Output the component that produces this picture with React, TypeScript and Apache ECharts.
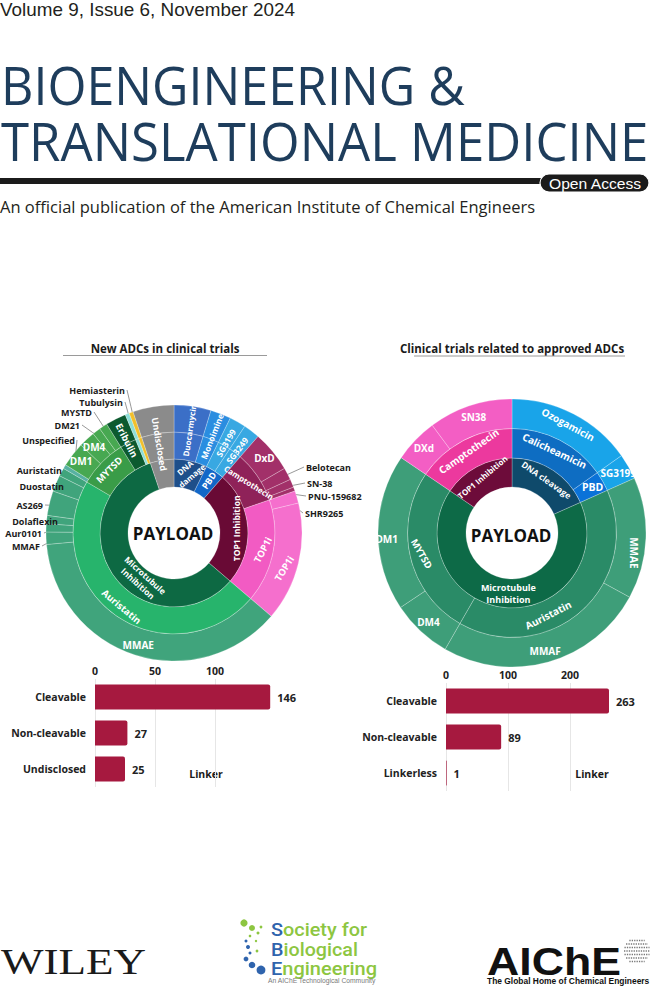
import { useEffect, useRef } from 'react';
import * as echarts from 'echarts';

// ---------------- DATA ----------------
// New ADCs in clinical trials (payload sunburst, outer ring = payload, estimated counts)
const leftLeaves = ['Duocarmycin', 'Monoimine', 'SG3199', 'SG3249', 'DxD', 'Belotecan', 'SN-38', 'PNU-159682', 'SHR9265', 'TOP1i', 'MMAE', 'MMAF', 'Aur0101', 'Dolaflexin', 'AS269', 'Duostatin', 'Auristatin', 'Unspecified', 'DM1', 'DM4', 'DM21', 'MYSTD', 'Eribulin', 'Tubulysin', 'Hemiasterin', 'Undisclosed'];
const leftCounts = [9, 5, 4, 4, 10, 3, 2, 1, 3, 29, 72, 3, 2, 2, 6, 4, 2, 1, 6, 4, 2, 2, 5, 1, 1, 10];
const leftClass = ['Duocarmycin', 'Monoimine', 'SG3199', 'SG3249', 'Camptothecin', 'Camptothecin', 'Camptothecin', 'Camptothecin', 'TOP1i', 'TOP1i', 'Auristatin', 'Auristatin', 'Auristatin', 'Auristatin', 'Auristatin', 'Auristatin', 'Auristatin', 'MYTSD', 'MYTSD', 'MYTSD', 'MYTSD', 'MYTSD', 'Eribulin', 'Tubulysin', 'Hemiasterin', 'Undisclosed'];
const leftMechanism = ['DNA damage', 'DNA damage', 'PBD', 'PBD', 'TOP1 Inhibition', 'TOP1 Inhibition', 'TOP1 Inhibition', 'TOP1 Inhibition', 'TOP1 Inhibition', 'TOP1 Inhibition', 'Microtubule Inhibition', 'Microtubule Inhibition', 'Microtubule Inhibition', 'Microtubule Inhibition', 'Microtubule Inhibition', 'Microtubule Inhibition', 'Microtubule Inhibition', 'Microtubule Inhibition', 'Microtubule Inhibition', 'Microtubule Inhibition', 'Microtubule Inhibition', 'Microtubule Inhibition', 'Microtubule Inhibition', 'Microtubule Inhibition', 'Microtubule Inhibition', 'Undisclosed'];

// Clinical trials related to approved ADCs
const rightLeaves = ['Ozogamicin', 'SG3199', 'MMAE', 'MMAF', 'DM4', 'DM1', 'DXd', 'SN38'];
const rightCounts = [54, 11, 52, 90, 26, 67, 19, 36];
const rightClass = ['Calicheamicin', 'PBD', 'Auristatin', 'Auristatin', 'MYTSD', 'MYTSD', 'Camptothecin', 'Camptothecin'];
const rightMechanism = ['DNA cleavage', 'DNA cleavage', 'Microtubule Inhibition', 'Microtubule Inhibition', 'Microtubule Inhibition', 'Microtubule Inhibition', 'TOP1 Inhibition', 'TOP1 Inhibition'];

// Linker bar charts
const leftLinkerTypes = ['Cleavable', 'Non-cleavable', 'Undisclosed'];
const leftLinkerCounts = [146, 27, 25];
const leftLinkerTicks = [0, 50, 100];
const rightLinkerTypes = ['Cleavable', 'Non-cleavable', 'Linkerless'];
const rightLinkerCounts = [263, 89, 1];
const rightLinkerTicks = [0, 100, 200];

// ---------------- STYLE / LAYOUT ----------------
const FONT = '"Open Sans", "Noto Sans", sans-serif';
const L_CENTER = [174, 533];
const L_R = [46, 74, 101, 128];
const R_CENTER = [512, 533];
const R_R = [46, 75, 104.5, 134];

const leftRing1Colors = { 'DNA damage': '#1e4f8a', PBD: '#1267c8', 'TOP1 Inhibition': '#690a35', 'Microtubule Inhibition': '#0d6943', Undisclosed: '#8b8b8b' };
const leftRing2Colors = { Duocarmycin: '#3b6fc7', Monoimine: '#2a8de0', SG3199: '#38a8e2', SG3249: '#38a8e2', Camptothecin: '#8f2259', TOP1i: '#f25bc3', Auristatin: '#27b46c', MYTSD: '#3a9c48', Eribulin: '#0c5a2f', Tubulysin: '#8edfd8', Hemiasterin: '#f2c02c', Undisclosed: '#8b8b8b' };
const leftRing3Colors = { Duocarmycin: '#3b6fc7', Monoimine: '#2a8de0', SG3199: '#38a8e2', SG3249: '#38a8e2', DxD: '#a23069', Belotecan: '#a23069', 'SN-38': '#a23069', 'PNU-159682': '#a23069', SHR9265: '#f56fcd', TOP1i: '#f56fcd', MMAE: '#40a47c', MMAF: '#40a47c', Aur0101: '#40a47c', Dolaflexin: '#40a47c', AS269: '#40a47c', Duostatin: '#40a47c', Auristatin: '#40a47c', Unspecified: '#57b1a2', DM1: '#47a851', DM4: '#47a851', DM21: '#47a851', MYSTD: '#47a851', Eribulin: '#0c5a2f', Tubulysin: '#8edfd8', Hemiasterin: '#f2c02c', Undisclosed: '#8b8b8b' };

const rightRing1Colors = { 'DNA cleavage': '#0f4a6b', 'Microtubule Inhibition': '#0d6a47', 'TOP1 Inhibition': '#6d0c3a' };
const rightRing2Colors = { Calicheamicin: '#0e6dc2', PBD: '#0a72d8', Auristatin: '#2a8b67', MYTSD: '#2a8b67', Camptothecin: '#ec399e' };
const rightRing3Colors = { Ozogamicin: '#19a4e9', SG3199: '#19a4e9', MMAE: '#3e9e79', MMAF: '#3e9e79', DM4: '#3e9e79', DM1: '#3e9e79', DXd: '#f35ec4', SN38: '#f35ec4' };

const leftRing1Labels = {
  'DNA damage': { text: 'DNA\ndamage', rotate: 40, size: 8 },
  PBD: { rotate: 'radial', size: 9 },
  'TOP1 Inhibition': { rotate: 90, size: 8.5 },
  'Microtubule Inhibition': { text: 'Microtubule\nInhibition', rotate: -42, size: 8.5, dx: 20, dy: 11 },
};
const leftRing2Labels = {
  Camptothecin: { rotate: -32, size: 8 },
  TOP1i: { rotate: 62, size: 9.5 },
  Auristatin: { rotate: -40, size: 9.5 },
  MYTSD: { rotate: 45, size: 9.5 },
};
const leftRing3Labels = {
  DxD: { rotate: 0, size: 10 },
  TOP1i: { rotate: 58, size: 9.5, dx: -4, dy: 8 },
  MMAE: { rotate: 0, size: 10 },
  DM1: { rotate: 0, size: 10 },
  DM4: { rotate: 0, size: 10 },
};
const leftSpanOuterLabels = {
  Duocarmycin: { rotate: 'radial', size: 8 },
  Monoimine: { rotate: 'radial', size: 8.5 },
  SG3199: { rotate: 'radial', size: 8.5 },
  SG3249: { rotate: 'radial', size: 8.5 },
  Eribulin: { rotate: 'radial', size: 9.5 },
};
const leftSpanAllLabels = { Undisclosed: { rotate: 'radial', size: 9 } };
const leftExternal = {
  Hemiasterin: { x: 125, y: 390, side: 'left' },
  Tubulysin: { x: 123, y: 402, side: 'left' },
  MYSTD: { x: 92, y: 412, side: 'left' },
  DM21: { x: 80, y: 425, side: 'left' },
  Unspecified: { x: 75, y: 440, side: 'left' },
  Auristatin: { x: 62, y: 470, side: 'left' },
  Duostatin: { x: 64, y: 486, side: 'left' },
  AS269: { x: 43, y: 505, side: 'left' },
  Dolaflexin: { x: 58, y: 521, side: 'left' },
  Aur0101: { x: 42, y: 533, side: 'left' },
  MMAF: { x: 40, y: 546, side: 'left' },
  Belotecan: { x: 306, y: 467, side: 'right' },
  'SN-38': { x: 307, y: 483, side: 'right' },
  'PNU-159682': { x: 308, y: 496, side: 'right' },
  SHR9265: { x: 305, y: 513, side: 'right' },
};

const rightRing1Labels = {
  'DNA cleavage': { rotate: -35, size: 8.5 },
  'Microtubule Inhibition': { text: 'Microtubule\nInhibition', rotate: 0, size: 9, dx: 2, dy: -3 },
  'TOP1 Inhibition': { rotate: 40, size: 8 },
};
const rightRing2Labels = {
  Calicheamicin: { rotate: -25, size: 10 },
  PBD: { rotate: 0, size: 10.5 },
  Auristatin: { rotate: 27, size: 10, dx: -26, dy: 13 },
  MYTSD: { rotate: -60, size: 9.5 },
  Camptothecin: { rotate: 35, size: 10 },
};
const rightRing3Labels = {
  Ozogamicin: { rotate: -28, size: 10 },
  SG3199: { rotate: 0, size: 10 },
  MMAE: { rotate: -90, size: 10, dy: 15 },
  MMAF: { rotate: 0, size: 10 },
  DM4: { rotate: 0, size: 10 },
  DM1: { rotate: 0, size: 10, dx: -3, dy: 7 },
  DXd: { rotate: 0, size: 10 },
  SN38: { rotate: 0, size: 10 },
};

// ---------------- HELPERS ----------------
function runs(names: string[], counts: number[]) {
  const out: { name: string; value: number }[] = [];
  names.forEach((n, i) => {
    const last = out[out.length - 1];
    if (last && last.name === n) last.value += counts[i];
    else out.push({ name: n, value: counts[i] });
  });
  return out;
}

function ringSeries(center: number[], r0: number, r1: number, items: { name: string; value: number }[], colors: any, labels: any, ext?: any) {
  const names = items.map((i) => i.name);
  const data = items.map((it) => {
    const lc = labels[it.name];
    const ec = ext && ext[it.name];
    const d: any = {
      name: it.name,
      value: it.value,
      itemStyle: colors ? { color: colors[it.name] } : { color: 'rgba(0,0,0,0)', borderWidth: 0 },
    };
    if (lc) {
      const size = lc.size || 9.5;
      d.label = {
        show: true, position: 'inside', formatter: lc.text || it.name, rotate: lc.rotate,
        fontSize: size, lineHeight: size * 1.3, color: '#ffffff', fontWeight: 'bold', fontFamily: FONT,
      };
    } else if (ec) {
      d.label = { show: true, position: 'outside', formatter: it.name, fontSize: 9, fontWeight: 'bold', color: '#1a1a1a', fontFamily: FONT };
      d.labelLine = { show: true, lineStyle: { color: '#6b6b6b', width: 0.7 } };
    } else {
      d.label = { show: false };
    }
    return d;
  });
  return {
    type: 'pie', center, radius: [r0, r1], startAngle: 90, clockwise: true, silent: true,
    avoidLabelOverlap: false, minAngle: 0,
    itemStyle: { borderColor: 'rgba(255,255,255,0.35)', borderWidth: colors ? 0.7 : 0 },
    label: { show: false }, labelLine: { show: false },
    emphasis: { disabled: true },
    data,
    labelLayout: (p: any) => {
      const name = names[p.dataIndex];
      const ec = ext && ext[name];
      if (ec && p.labelLinePoints) {
        const a = p.labelLinePoints[0];
        const k = (r1 - 11) / r1;
        const p0 = [center[0] + (a[0] - center[0]) * k, center[1] + (a[1] - center[1]) * k];
        const end = ec.side === 'left' ? [ec.x + 2, ec.y] : [ec.x - 2, ec.y];
        const mid = [(p0[0] + end[0]) / 2, (p0[1] + end[1]) / 2];
        return { x: ec.x, y: ec.y, align: ec.side === 'left' ? 'right' : 'left', verticalAlign: 'middle', labelLinePoints: [p0, mid, end] };
      }
      const lc = labels[name];
      if (lc && (lc.dx || lc.dy) && p.labelRect) {
        const r = p.labelRect;
        return { x: r.x + r.width / 2 + (lc.dx || 0), y: r.y + r.height / 2 + (lc.dy || 0) };
      }
      return {};
    },
  };
}

let _ctx: any = null;
function ctx2d() {
  if (!_ctx) _ctx = document.createElement('canvas').getContext('2d');
  return _ctx;
}
function capFit(family: string, weight: any, capTop: number, capBottom: number) {
  const c = ctx2d();
  c.textBaseline = 'middle';
  c.font = `${weight} 100px ${family}`;
  const m = c.measureText('H');
  const ratio = (m.actualBoundingBoxAscent + m.actualBoundingBoxDescent) / 100;
  const size = (capBottom - capTop) / ratio;
  c.font = `${weight} ${size}px ${family}`;
  const m2 = c.measureText('H');
  const off = (m2.actualBoundingBoxDescent - m2.actualBoundingBoxAscent) / 2;
  return { size, y: (capTop + capBottom) / 2 - off };
}
function textWidth(text: string, family: string, weight: any, size: number) {
  const c = ctx2d();
  c.font = `${weight} ${size}px ${family}`;
  return c.measureText(text).width;
}
function fitText(text: string, family: string, weight: any, left: number, capTop: number, capBottom: number, width: number, fill: string) {
  const f = capFit(family, weight, capTop, capBottom);
  const sx = width / textWidth(text, family, weight, f.size);
  return {
    type: 'text', x: left, y: f.y, scaleX: sx, silent: true,
    style: { text, fontSize: f.size, fontFamily: family, fontWeight: weight, fill, align: 'left', verticalAlign: 'middle' },
  };
}
function fitSplit(first: string, rest: string, family: string, weight: any, left: number, capTop: number, capBottom: number, width: number, c1: string, c2: string) {
  const f = capFit(family, weight, capTop, capBottom);
  const sx = width / textWidth(first + rest, family, weight, f.size);
  const w1 = textWidth(first, family, weight, f.size) * sx;
  const mk = (t: string, x: number, fill: string) => ({
    type: 'text', x, y: f.y, scaleX: sx, silent: true,
    style: { text: t, fontSize: f.size, fontFamily: family, fontWeight: weight, fill, align: 'left', verticalAlign: 'middle' },
  });
  return [mk(first, left, c1), mk(rest, left + w1, c2)];
}
function plainText(text: string, x: number, y: number, size: number, weight: any, fill: string, align = 'center', family = FONT) {
  return { type: 'text', x, y, silent: true, style: { text, fontSize: size, fontWeight: weight, fontFamily: family, fill, align, verticalAlign: 'middle' } };
}

const sbeDots = [
  [244, 923, 3.6, '#8dc641'], [252, 928, 3, '#8dc641'], [261, 927, 1.4, '#8dc641'], [258, 933, 1.5, '#8dc641'],
  [250, 936, 1.3, '#8dc641'], [246, 941, 1.5, '#2f64ad'], [256, 941, 1.2, '#8dc641'], [248, 947, 2, '#2f64ad'],
  [257, 951, 1.4, '#8dc641'], [250, 953, 1.5, '#2f64ad'], [246, 959, 2.4, '#2f64ad'], [252, 965, 3.3, '#2f64ad'],
  [261, 970, 4.4, '#2f64ad'],
];

function buildGraphic() {
  const g: any[] = [];
  // header
  g.push(fitText('Volume 9, Issue 6, November 2024', '"Liberation Sans"', 'normal', 0, 2, 14.5, 295, '#231f20'));
  g.push(fitText('BIOENGINEERING &', '"Open Sans"', 'normal', 1, 62, 100, 464, '#1e3d5c'));
  g.push(fitText('TRANSLATIONAL MEDICINE', '"Open Sans"', 'normal', 1, 117.5, 156, 647, '#1e3d5c'));
  g.push({ type: 'rect', silent: true, shape: { x: 0, y: 178, width: 545, height: 6 }, style: { fill: '#1b1b1b' } });
  g.push({ type: 'rect', silent: true, shape: { x: 540, y: 174, width: 109, height: 18, r: 9 }, style: { fill: '#1b1b1b', stroke: '#ffffff', lineWidth: 1.2 } });
  g.push(fitText('Open Access', '"Liberation Sans"', 'normal', 549, 178, 188.5, 93, '#ffffff'));
  g.push(fitText('An official publication of the American Institute of Chemical Engineers', '"Open Sans"', 'normal', 0, 199.5, 211.5, 535, '#231f20'));

  // sunburst titles
  g.push(plainText('New ADCs in clinical trials', 165, 348, 11.5, 'bold', '#1a1a1a'));
  g.push({ type: 'line', silent: true, shape: { x1: 63, y1: 355.5, x2: 267, y2: 355.5 }, style: { stroke: '#9a9a9a', lineWidth: 1 } });
  g.push(plainText('Clinical trials related to approved ADCs', 512, 348, 11.5, 'bold', '#1a1a1a'));
  g.push({ type: 'line', silent: true, shape: { x1: 414, y1: 356, x2: 625, y2: 356 }, style: { stroke: '#9a9a9a', lineWidth: 1 } });
  g.push(plainText('PAYLOAD', L_CENTER[0] - 1, L_CENTER[1], 17, 'bold', '#111111'));
  g.push(plainText('PAYLOAD', R_CENTER[0] - 1, R_CENTER[1] + 2, 17, 'bold', '#111111'));
  g.push(plainText('Linker', 206, 774, 10.5, 'bold', '#1a1a1a'));
  g.push(plainText('Linker', 592, 774, 10.5, 'bold', '#1a1a1a'));

  // footer: Wiley
  g.push(fitText('WILEY', '"Liberation Serif"', 'normal', 1, 948, 972, 145, '#1a1a1a'));
  // SBE
  sbeDots.forEach((d) => g.push({ type: 'circle', silent: true, shape: { cx: d[0], cy: d[1], r: d[2] }, style: { fill: d[3] } }));
  fitSplit('S', 'ociety for', 'Roboto', 500, 271, 921, 934, 96, '#2f64ad', '#8dc641').forEach((e) => g.push(e));
  fitSplit('B', 'iological', 'Roboto', 500, 271, 941, 954, 87, '#2f64ad', '#8dc641').forEach((e) => g.push(e));
  fitSplit('E', 'ngineering', 'Roboto', 500, 271, 960.5, 973.5, 106, '#2f64ad', '#8dc641').forEach((e) => g.push(e));
  g.push(fitText('An AIChE Technological Community', '"Liberation Sans"', 'normal', 268, 977.5, 983, 108, '#7a7a7a'));
  // AIChE
  g.push(fitText('AIChE', '"Liberation Sans"', 'bold', 487, 945, 972, 134, '#111111'));
  const gc = [637, 951];
  [-10.5, -7, -3.5, 0, 3.5, 7, 10.5].forEach((dy) => {
    const half = Math.sqrt(13 * 13 - dy * dy);
    g.push({ type: 'line', silent: true, shape: { x1: gc[0] - half, y1: gc[1] + dy, x2: gc[0] + half, y2: gc[1] + dy }, style: { stroke: '#777777', lineWidth: 1.6, lineDash: [1.3, 1.1] } });
  });
  g.push(fitText('The Global Home of Chemical Engineers', '"Liberation Sans"', 'bold', 487, 977, 983.5, 162, '#111111'));
  return g;
}

function barAxes(gridIndex: number, cats: string[], ticks: number[], counts: number[]) {
  const x = {
    gridIndex, type: 'value', position: 'top', min: ticks[0], max: Math.max(...counts), interval: ticks[1] - ticks[0],
    axisLine: { show: false }, axisTick: { show: false },
    axisLabel: { fontSize: 10.5, fontWeight: 'bold', color: '#222', margin: 3, showMaxLabel: false, fontFamily: FONT },
    splitLine: { show: true, showMaxLine: false, lineStyle: { color: '#e6e6e6', width: 1 } },
  };
  const y = {
    gridIndex, type: 'category', data: cats, inverse: true,
    axisLine: { show: false }, axisTick: { show: false },
    axisLabel: { fontSize: 10.5, fontWeight: 'bold', color: '#222', margin: 9, fontFamily: FONT },
  };
  const s = {
    type: 'bar', xAxisIndex: gridIndex, yAxisIndex: gridIndex, data: counts, barWidth: 25, silent: true,
    itemStyle: { color: '#a6193f', borderRadius: [0, 2, 2, 0] },
    label: { show: true, position: 'right', distance: 7, fontSize: 11, fontWeight: 'bold', color: '#222', fontFamily: FONT },
  };
  return { x, y, s };
}

export default function App() {
  const ref = useRef<HTMLDivElement>(null);
  useEffect(() => {
    if (!ref.current) return;
    const chart = echarts.init(ref.current, undefined, { renderer: 'svg' });

    const lLeaves = leftLeaves.map((n, i) => ({ name: n, value: leftCounts[i] }));
    const lClass = runs(leftClass, leftCounts);
    const lMech = runs(leftMechanism, leftCounts);
    const rLeaves = rightLeaves.map((n, i) => ({ name: n, value: rightCounts[i] }));
    const rClass = runs(rightClass, rightCounts);
    const rMech = runs(rightMechanism, rightCounts);

    const b1 = barAxes(0, leftLinkerTypes, leftLinkerTicks, leftLinkerCounts);
    const b2 = barAxes(1, rightLinkerTypes, rightLinkerTicks, rightLinkerCounts);

    chart.setOption({
      animation: false,
      backgroundColor: '#ffffff',
      textStyle: { fontFamily: FONT },
      grid: [
        { left: 95, top: 679, width: 175.2, height: 108 },
        { left: 446, top: 683, width: 163, height: 108 },
      ],
      xAxis: [b1.x, b2.x],
      yAxis: [b1.y, b2.y],
      series: [
        ringSeries(L_CENTER, L_R[0], L_R[1], lMech, leftRing1Colors, leftRing1Labels),
        ringSeries(L_CENTER, L_R[1], L_R[2], lClass, leftRing2Colors, leftRing2Labels),
        ringSeries(L_CENTER, L_R[2], L_R[3], lLeaves, leftRing3Colors, leftRing3Labels, leftExternal),
        ringSeries(L_CENTER, L_R[1], L_R[3], lClass, null, leftSpanOuterLabels),
        ringSeries(L_CENTER, L_R[0], L_R[3], lMech, null, leftSpanAllLabels),
        ringSeries(R_CENTER, R_R[0], R_R[1], rMech, rightRing1Colors, rightRing1Labels),
        ringSeries(R_CENTER, R_R[1], R_R[2], rClass, rightRing2Colors, rightRing2Labels),
        ringSeries(R_CENTER, R_R[2], R_R[3], rLeaves, rightRing3Colors, rightRing3Labels),
        b1.s,
        b2.s,
      ],
      graphic: buildGraphic(),
    });
    return () => chart.dispose();
  }, []);
  return <div ref={ref} style={{ position: 'absolute', left: 0, top: 0, width: 650, height: 986, background: '#fff' }} />;
}
